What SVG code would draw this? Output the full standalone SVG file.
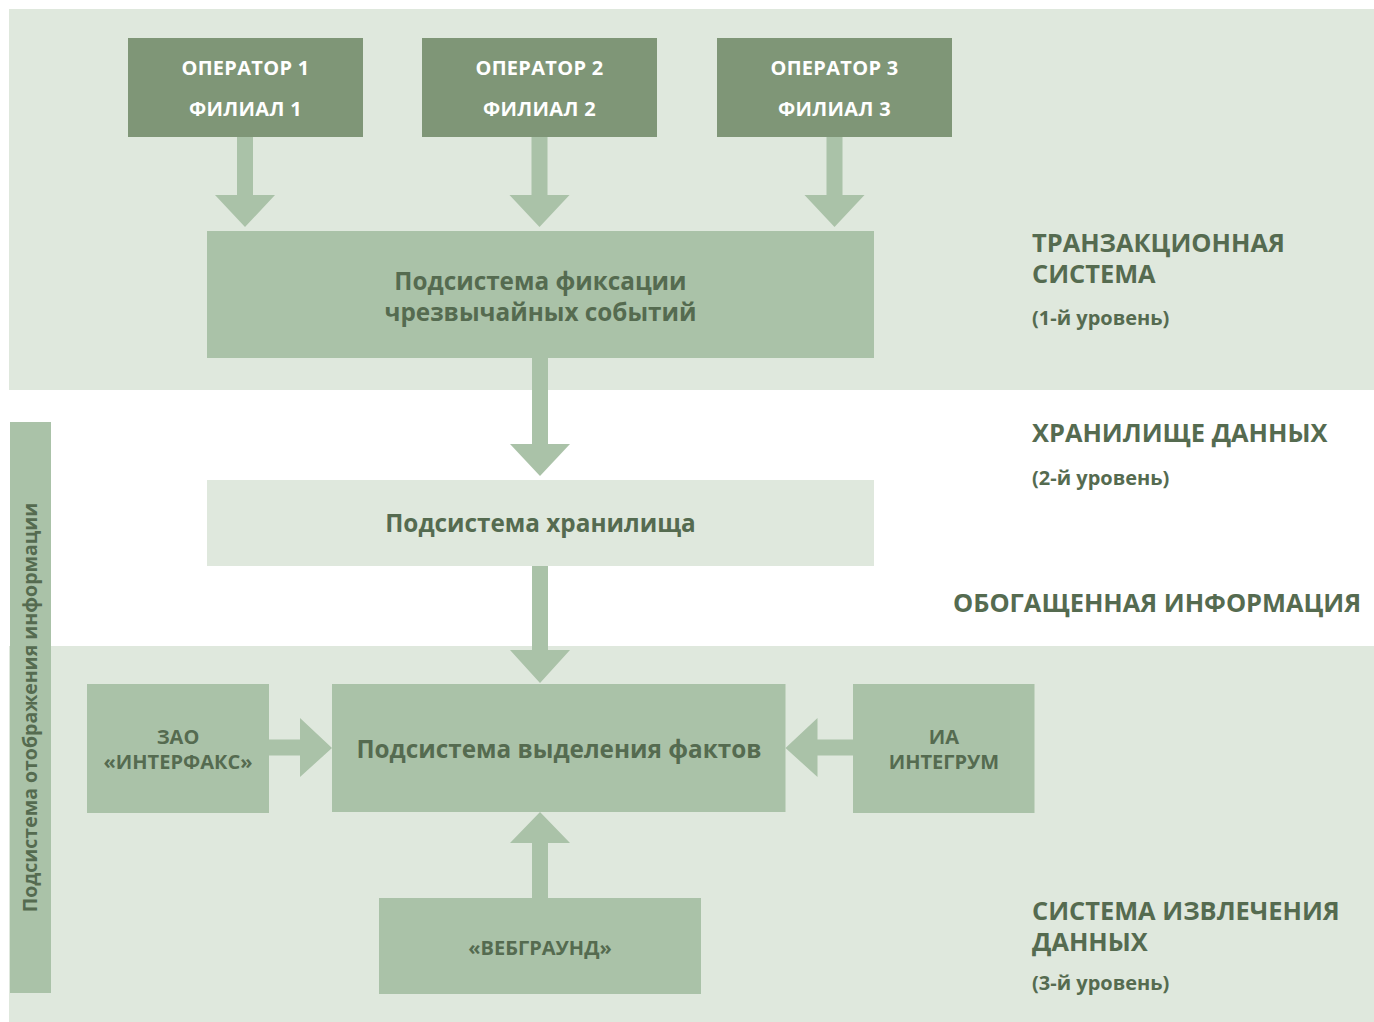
<svg xmlns="http://www.w3.org/2000/svg" width="1374" height="1022" viewBox="0 0 1374 1022">
<style>
.band{fill:#dfe8dd}
.dark{fill:#7f9677}
.mid{fill:#aac2a8}
.light{fill:#dfe8dd}
.arrow{fill:#aac2a8}
text{font-family:"Open Sans","Liberation Sans",sans-serif;font-weight:bold}
.wt{fill:#ffffff;font-size:20px;letter-spacing:0.3px;text-anchor:middle}
.bt{fill:#556b50;font-size:24.3px;text-anchor:middle}
.st{fill:#556b50;font-size:20px;text-anchor:middle}
.rl{fill:#556b50;font-size:25.4px}
.rs{fill:#556b50;font-size:20px}
.vt{fill:#556b50;font-size:19.5px;text-anchor:middle}
</style>
<rect width="1374" height="1022" fill="#ffffff"/>
<g id="bands">
<rect class="band" x="9" y="9" width="1365" height="381"/>
<rect class="band" x="9" y="646" width="1365" height="376"/>
</g>
<g id="side-bar">
<rect class="mid" x="10" y="422" width="41" height="571"/>
<text class="vt" transform="translate(36.5,707.5) rotate(-90)">Подсистема отображения информации</text>
</g>
<g id="connectors">
<polygon class="arrow" points="237,137 253,137 253,195 275,195 245,227 215,195 237,195"/>
<polygon class="arrow" points="531.5,137 547.5,137 547.5,195 569.5,195 539.5,227 509.5,195 531.5,195"/>
<polygon class="arrow" points="826.5,137 842.5,137 842.5,195 864.5,195 834.5,227 804.5,195 826.5,195"/>
<polygon class="arrow" points="532,358 548,358 548,444 570,444 540,476 510,444 532,444"/>
<polygon class="arrow" points="532,566 548,566 548,650 570,650 540,683 510,650 532,650"/>
<polygon class="arrow" points="269,739.5 300,739.5 300,718 332,748 300,777 300,755.5 269,755.5"/>
<polygon class="arrow" points="853,739.5 817.5,739.5 817.5,718 785.5,748 817.5,777 817.5,755.5 853,755.5"/>
<polygon class="arrow" points="532,898 532,843 510,843 540,812 570,843 548,843 548,898"/>
</g>
<g id="op1">
<rect class="dark" x="128" y="38" width="235" height="99"/>
<text class="wt" x="245.5" y="75">ОПЕРАТОР 1</text>
<text class="wt" x="245.5" y="116">ФИЛИАЛ 1</text>
</g>
<g id="op2">
<rect class="dark" x="422" y="38" width="235" height="99"/>
<text class="wt" x="539.5" y="75">ОПЕРАТОР 2</text>
<text class="wt" x="539.5" y="116">ФИЛИАЛ 2</text>
</g>
<g id="op3">
<rect class="dark" x="717" y="38" width="235" height="99"/>
<text class="wt" x="834.5" y="75">ОПЕРАТОР 3</text>
<text class="wt" x="834.5" y="116">ФИЛИАЛ 3</text>
</g>
<g id="fixation">
<rect class="mid" x="207" y="231" width="667" height="127"/>
<text class="bt" x="540.5" y="290">Подсистема фиксации</text>
<text class="bt" x="540.5" y="321">чрезвычайных событий</text>
</g>
<g id="storage">
<rect class="light" x="207" y="480" width="667" height="86"/>
<text class="bt" x="540.5" y="532">Подсистема хранилища</text>
</g>
<g id="facts">
<rect class="mid" x="332" y="684" width="453.5" height="128"/>
<text class="bt" x="559" y="758">Подсистема выделения фактов</text>
</g>
<g id="interfax">
<rect class="mid" x="87" y="684" width="182" height="129"/>
<text class="st" x="178" y="744">ЗАО</text>
<text class="st" x="178" y="769">«ИНТЕРФАКС»</text>
</g>
<g id="integrum">
<rect class="mid" x="853" y="684" width="181.5" height="129"/>
<text class="st" x="944" y="744">ИА</text>
<text class="st" x="944" y="769">ИНТЕГРУМ</text>
</g>
<g id="webground">
<rect class="mid" x="379" y="898" width="322" height="96"/>
<text class="st" x="540" y="955">«ВЕБГРАУНД»</text>
</g>
<g id="labels">
<text class="rl" x="1032" y="252">ТРАНЗАКЦИОННАЯ</text>
<text class="rl" x="1032" y="283">СИСТЕМА</text>
<text class="rs" x="1032" y="325">(1-й уровень)</text>
<text class="rl" x="1032" y="442">ХРАНИЛИЩЕ ДАННЫХ</text>
<text class="rs" x="1032" y="485">(2-й уровень)</text>
<text class="rl" x="953" y="612">ОБОГАЩЕННАЯ ИНФОРМАЦИЯ</text>
<text class="rl" x="1032" y="920">СИСТЕМА ИЗВЛЕЧЕНИЯ</text>
<text class="rl" x="1032" y="951">ДАННЫХ</text>
<text class="rs" x="1032" y="990">(3-й уровень)</text>
</g>
</svg>
